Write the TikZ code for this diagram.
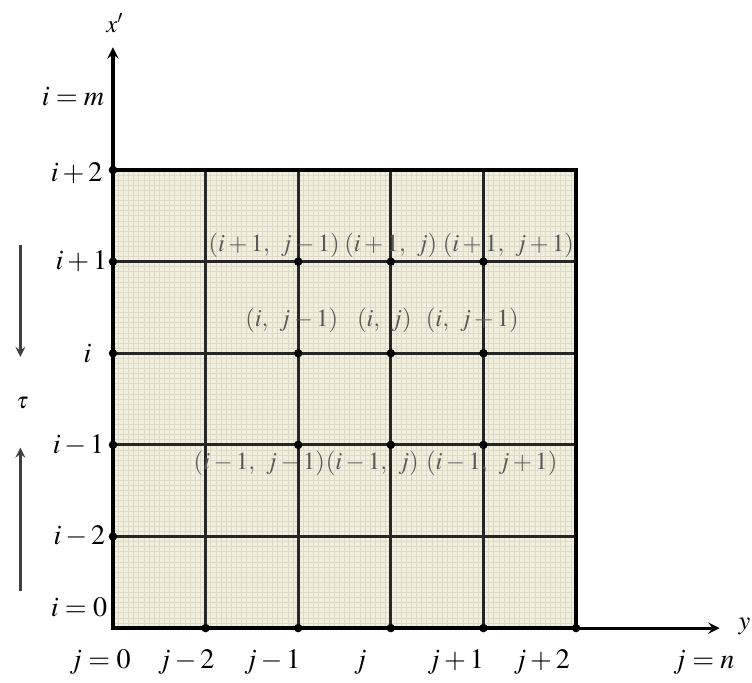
\documentclass[tikz,border=0pt]{standalone}
\usepackage{mathptmx}
\usepackage{xcolor}
\usetikzlibrary{arrows, positioning, calc}

\definecolor{paper}{RGB}{242,239,223}
\definecolor{fineline}{RGB}{221,218,199}

\begin{document}
\begin{tikzpicture}[
    x=1.852cm, y=1.832cm,
    >=stealth,
    mainline/.style={line width=1.6pt, black!85},
    axis/.style={line width=1.8pt, black, ->},
    dot/.style={circle, fill=black, inner sep=0pt, minimum size=0.17cm},
    ilabel/.style={font=\fontsize{16}{18}\selectfont, anchor=east, inner sep=0pt},
    jlabel/.style={font=\fontsize{16}{18}\selectfont, inner sep=0pt},
    cell/.style={font=\fontsize{14}{16}\selectfont, text=black!65, inner sep=0pt},
    tauarrow/.style={line width=1.5pt, black!75, ->},
]
\useasboundingbox (-1.22,-0.59) rectangle (6.90,6.856);

% Graph paper
\fill[paper] (0,0) rectangle (5,5);
\draw[fineline, line width=0.4pt, step=0.05556] (0,0) grid (5,5);

% Mesh lines
\foreach \k in {1,...,4} {
    \draw[mainline] (\k,0) -- (\k,5);
    \draw[mainline] (0,\k) -- (5,\k);
}
\draw[line width=2.6pt] (0,0) rectangle (5,5);

% Axes
\coordinate (O) at (0,0);
\coordinate (xtop) at (0,6.34);
\coordinate (yend) at (6.55,0);
\draw[axis] (O) -- (xtop);
\draw[axis] (O) -- (yend);
\node (xlab) at (0.02,6.60) {\fontsize{14}{16}\selectfont$x'$};
\node (ylab) at (6.82,0.02) {\fontsize{15}{17}\selectfont$y$};

% Nodes on the axes
\foreach \k in {1,...,5} {
    \node[dot] (l\k) at (0,\k) {};
    \node[dot] (b\k) at (\k,0) {};
}

% Interior nodes
\foreach \c in {2,3,4} {
    \foreach \r in {2,3,4} {
        \node[dot] (p\c\r) at (\c,\r) {};
    }
}

% Row labels
\node[ilabel] (im) at (-0.09,5.80) {$i=m$};
\node[ilabel] (ip2) at (-0.11,4.97) {$i+2$};
\node[ilabel] (ip1) at (-0.06,4.0) {$i+1$};
\node[ilabel] (ii) at (-0.23,3.0) {$i$};
\node[ilabel] (im1) at (-0.09,2.0) {$i-1$};
\node[ilabel] (im2) at (-0.08,1.0) {$i-2$};
\node[ilabel] (i0) at (-0.06,0.23) {$i=0$};

% Column labels
\node[jlabel] (j0) at (-0.14,-0.37) {$j=0$};
\node[jlabel] (jm2) at (0.79,-0.37) {$j-2$};
\node[jlabel] (jm1) at (1.72,-0.37) {$j-1$};
\node[jlabel] (jj) at (2.67,-0.37) {$j$};
\node[jlabel] (jp1) at (3.70,-0.37) {$j+1$};
\node[jlabel] (jp2) at (4.63,-0.37) {$j+2$};
\node[jlabel] (jn) at (6.38,-0.37) {$j=n$};

% Stencil labels
\node[cell] (c1) at (1.74,4.18) {$(i+1,\ j-1)$};
\node[cell] (c2) at (3.00,4.18) {$(i+1,\ j)$};
\node[cell] (c3) at (4.27,4.18) {$(i+1,\ j+1)$};
\node[cell] (c4) at (1.93,3.36) {$(i,\ j-1)$};
\node[cell] (c5) at (2.93,3.36) {$(i,\ j)$};
\node[cell] (c6) at (3.88,3.36) {$(i,\ j+1)$};
\node[cell] (c7) at (1.58,1.80) {$(i-1,\ j-1)$};
\node[cell] (c8) at (2.80,1.80) {$(i-1,\ j)$};
\node[cell] (c9) at (4.09,1.80) {$(i-1,\ j+1)$};

% Time direction
\coordinate (dtop) at (-1.0,4.18);
\coordinate (dbot) at (-1.0,2.96);
\coordinate (ubot) at (-1.0,0.41);
\coordinate (utop) at (-1.0,1.97);
\draw[tauarrow] (dtop) -- (dbot);
\draw[tauarrow] (ubot) -- (utop);
\node (tau) at (-0.98,2.46) {\fontsize{13}{15}\selectfont$\tau$};

\end{tikzpicture}
\end{document}
